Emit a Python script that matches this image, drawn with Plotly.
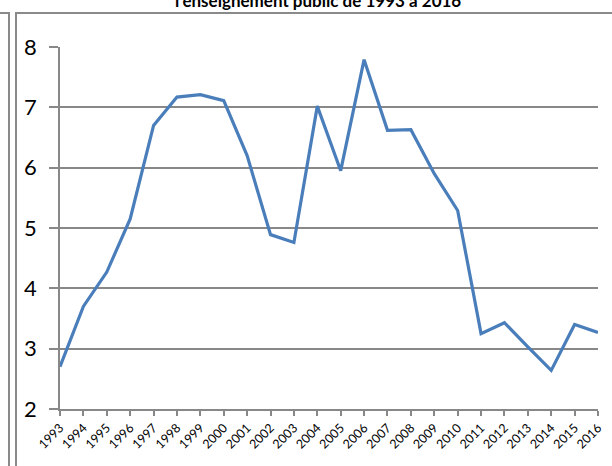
import plotly.graph_objects as go

years = [str(y) for y in range(1993, 2017)]
values = [2.70, 3.70, 4.27, 5.15, 6.70, 7.17, 7.21, 7.11, 6.20, 4.89, 4.76, 7.02,
          5.95, 7.79, 6.62, 6.63, 5.90, 5.29, 3.25, 3.43, 3.03, 2.64, 3.40, 3.27]
title_text = "l'enseignement public de 1993 à 2016"

grid = "#888888"

fig = go.Figure()
fig.add_trace(go.Scatter(x=years, y=values, mode="lines",
                         line=dict(color="#4a7ebb", width=3.2)))

fig.update_xaxes(type="category", range=[0, 23], showgrid=False, automargin=False,
                 showline=True, linecolor=grid, linewidth=1.5,
                 ticks="outside", ticklen=5, tickcolor=grid, tickwidth=1.5,
                 tickangle=-45, tickfont=dict(family="Lato", size=12.5, color="#000"))
fig.update_yaxes(range=[2, 8], dtick=1, showgrid=True, gridcolor=grid, gridwidth=1.5,
                 showline=True, linecolor=grid, linewidth=1.5, automargin=False,
                 ticks="outside", ticklen=9, tickcolor=grid, tickwidth=1.5,
                 ticklabelstandoff=8,
                 tickfont=dict(family="Lato", size=22, color="#000"), zeroline=False)

fig.add_annotation(text="<b>" + title_text + "</b>", xref="paper", yref="paper",
                   x=0.48, y=1.094, yanchor="bottom", showarrow=False,
                   font=dict(family="Lato", size=17, color="#000"))

fig.update_layout(width=612, height=466, margin=dict(l=60, r=14, t=47, b=57),
                  paper_bgcolor="white", plot_bgcolor="white", showlegend=False)

# page tweaks: no body margin, plus the grey chart frame lines seen in the reference
post = """
document.body.style.margin='0';
document.body.style.overflow='hidden';
function ln(l,t,w,h){
  var e=document.createElement('div');
  e.style.cssText='position:absolute;background:#8a8a8a;z-index:10;left:'+l+'px;top:'+t+'px;width:'+w+'px;height:'+h+'px';
  document.body.appendChild(e);
}
ln(0,12,9,2); ln(8,12,2,454); ln(15,12,2,454); ln(15,12,597,2);
"""

fig.write_html("out.html", config={"displayModeBar": False}, post_script=post)
